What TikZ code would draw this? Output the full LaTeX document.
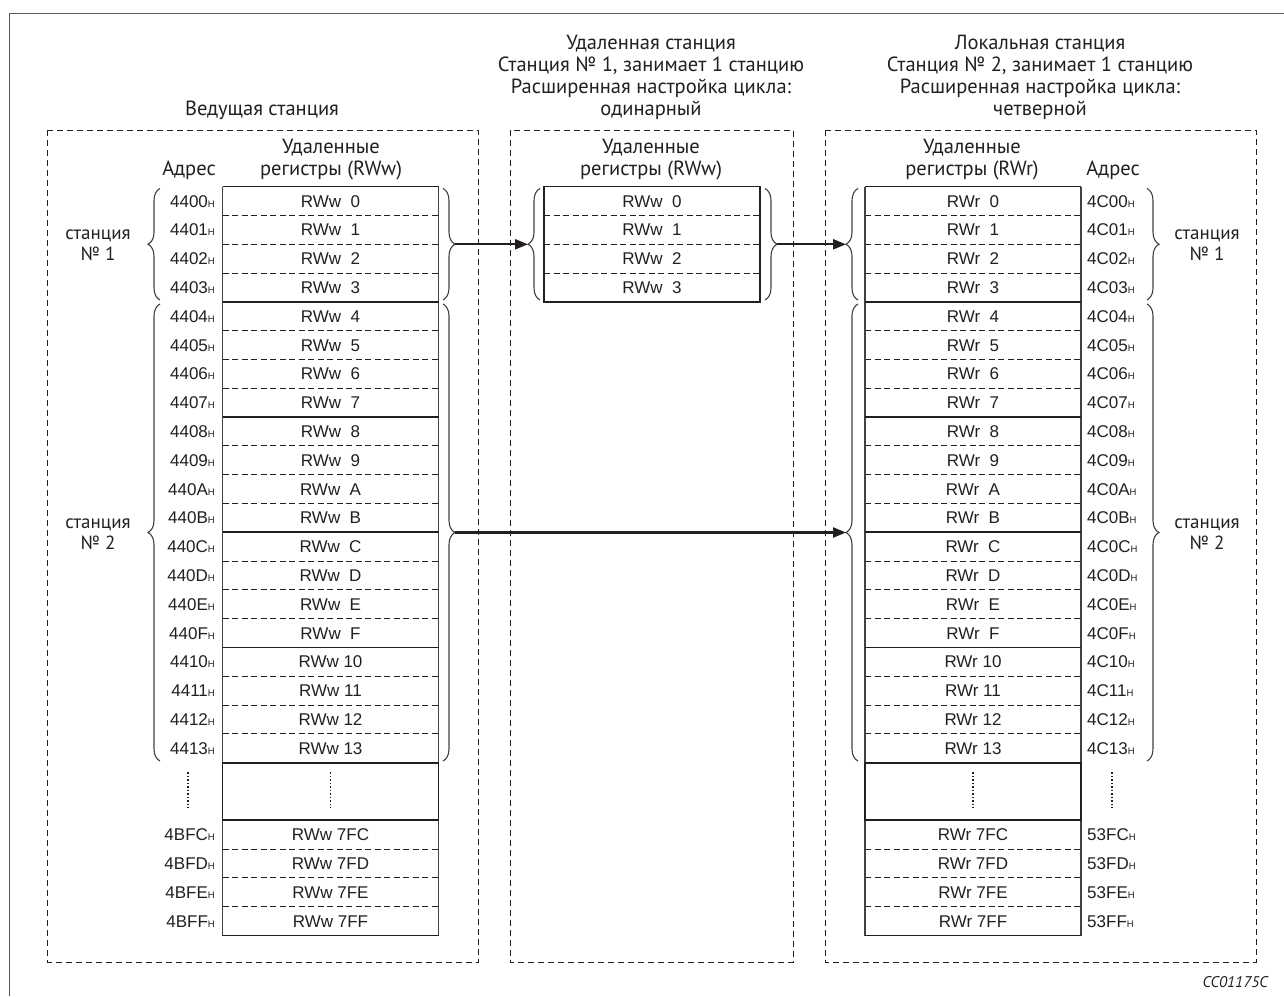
\documentclass[tikz,border=0pt]{standalone}
\usepackage{fontspec}
\setmainfont{Liberation Sans}
\newfontfamily\myr{PT Sans}
\usetikzlibrary{decorations.pathreplacing,arrows.meta}
\definecolor{ink}{HTML}{231F20}
\definecolor{brgray}{HTML}{404040}
\newcommand{\Hs}{{\fontsize{9.5}{10}\selectfont H}}
\begin{document}
\begin{tikzpicture}[x=1pt,y=-1pt,
  cell/.style={inner sep=0pt, text height=12pt, text depth=0pt, font=\fontsize{17}{19}\selectfont, text=ink},
  ttl/.style={inner sep=0pt, anchor=base, font=\myr\fontsize{20.5}{22}\selectfont, text=ink},
  stn/.style={inner sep=0pt, anchor=base, font=\myr\fontsize{19}{20}\selectfont, text=ink},
  dbox/.style={draw=ink, line width=1pt, dash pattern=on 6pt off 4pt},
  sepline/.style={draw=ink, line width=0.9pt, dash pattern=on 6pt off 3.5pt},
  gline/.style={draw=ink, line width=1.7pt},
  tline/.style={draw=ink, line width=1.3pt},
  vline/.style={draw=ink!85, line width=1.2pt},
  brc/.style={draw=brgray, line width=1.1pt, decorate, decoration={brace, amplitude=12pt}},
  arr/.style={draw=ink, line width=2.2pt, -{Triangle[length=13pt,width=10pt]}},
  dots/.style={draw=ink, line width=1.2pt, dash pattern=on 1.5pt off 2pt}
]
\useasboundingbox (0,0) rectangle (1284,996);
\draw[gray!70!black, line width=1.5pt] (9.5,996) -- (9.5,13.5) -- (1284,13.5);

% dashed station boxes
\draw[dbox] (47.5,130) rectangle (478,962);
\draw[dbox] (510,130) rectangle (793,962);
\draw[dbox] (825,130) rectangle (1256,962);

% titles
\node[ttl] (tL) at (262,115) {Ведущая станция};
\node[ttl] (tM1) at (651,49) {Удаленная станция};
\node[ttl] (tM2) at (651,71) {Станция № 1, занимает 1 станцию};
\node[ttl] (tM3) at (651,93) {Расширенная настройка цикла:};
\node[ttl] (tM4) at (651,115) {одинарный};
\node[ttl] (tR1) at (1040,49) {Локальная станция};
\node[ttl] (tR2) at (1040,71) {Станция № 2, занимает 1 станцию};
\node[ttl] (tR3) at (1040,93) {Расширенная настройка цикла:};
\node[ttl] (tR4) at (1040,115) {четверной};

% headers
\node[ttl] (hLa) at (189,175) {Адрес};
\node[ttl] (hL1) at (331,153) {Удаленные};
\node[ttl] (hL2) at (331,175) {регистры (RWw)};
\node[ttl] (hM1) at (651,153) {Удаленные};
\node[ttl] (hM2) at (651,175) {регистры (RWw)};
\node[ttl] (hR1) at (972,153) {Удаленные};
\node[ttl] (hR2) at (972,175) {регистры (RWr)};
\node[ttl] (hRa) at (1113,175) {Адрес};

% table lines (left and right tables)
\foreach \xa in {222.5,865}{
  \foreach \k in {1,2,3,5,6,7,9,10,11,13,14,15,17,18,19,23,24,25}
    \draw[sepline] (\xa,{186.7+\k*28.8}) -- ({\xa+216},{186.7+\k*28.8});
  \draw[vline] (\xa,186.7) -- (\xa,{186.7+26*28.8});
  \draw[vline] ({\xa+216},186.7) -- ({\xa+216},{186.7+26*28.8});
  \foreach \k in {4,8,12,16}
    \draw[gline] (\xa,{186.7+\k*28.8}) -- ({\xa+216},{186.7+\k*28.8});
  \draw[tline] (\xa,186.7) -- ({\xa+216},186.7);
  \draw[tline] (\xa,{186.7+26*28.8}) -- ({\xa+216},{186.7+26*28.8});
  \draw[gline] (\xa,{186.7+20*28.8}) rectangle ({\xa+216},{186.7+22*28.8});
}
% middle table lines
\foreach \k in {1,2,3}
  \draw[sepline] (544,{186.7+\k*28.8}) -- (760,{186.7+\k*28.8});
\draw[tline] (544,186.7) rectangle (760,{186.7+4*28.8});

% rows
\foreach \i/\n/\a in {0/0/00,1/1/01,2/2/02,3/3/03,4/4/04,5/5/05,6/6/06,7/7/07,8/8/08,9/9/09,10/A/0A,11/B/0B,12/C/0C,13/D/0D,14/E/0E,15/F/0F,16/10/10,17/11/11,18/12/12,19/13/13}{
  \ifnum\i<16 \def\gap{\hspace{0.55em}}\else\def\gap{ }\fi
  \node[cell] (L\i) at (330.5,{186.7+(\i+0.5)*28.8}) {RWw\gap\n};
  \node[cell, anchor=east] (LA\i) at (215,{186.7+(\i+0.5)*28.8}) {44\a\Hs};
  \node[cell] (R\i) at (973,{186.7+(\i+0.5)*28.8}) {RWr\gap\n};
  \node[cell, anchor=west] (RA\i) at (1087,{186.7+(\i+0.5)*28.8}) {4C\a\Hs};
}
\foreach \i in {0,1,2,3}
  \node[cell] (M\i) at (652,{186.7+(\i+0.5)*28.8}) {RWw\hspace{0.55em}\i};
\foreach \k/\n in {22/FC,23/FD,24/FE,25/FF}{
  \node[cell] (L\k) at (330.5,{186.7+(\k+0.5)*28.8}) {RWw 7\n};
  \node[cell, anchor=east] (LA\k) at (215,{186.7+(\k+0.5)*28.8}) {4B\n\Hs};
  \node[cell] (R\k) at (973,{186.7+(\k+0.5)*28.8}) {RWr 7\n};
  \node[cell, anchor=west] (RA\k) at (1087,{186.7+(\k+0.5)*28.8}) {53\n\Hs};
}

% dots in the gap
\foreach \x in {188,330.5,973,1112}
  \draw[dots] (\x,772) -- (\x,808);

% braces
\draw[brc] (160,300) -- (160,188.5);
\draw[brc] (160,761) -- (160,304);
\draw[brc] (443,188.5) -- (443,300);
\draw[brc] (443,304) -- (443,761);
\draw[brc] (540,300) -- (540,188.5);
\draw[brc] (765,188.5) -- (765,300);
\draw[brc] (858,300) -- (858,188.5);
\draw[brc] (858,761) -- (858,304);
\draw[brc] (1147,188.5) -- (1147,300);
\draw[brc] (1147,304) -- (1147,761);

% brace tips
\coordinate (bL1) at (455,244.3);
\coordinate (bL2) at (455,532.5);
\coordinate (bMi) at (528,244.3);
\coordinate (bMo) at (777,244.3);
\coordinate (bR1) at (846,244.3);
\coordinate (bR2) at (846,532.5);

% arrows
\draw[arr] (bL1) -- (bMi);
\draw[arr] (bMo) -- (bR1);
\draw[arr] (bL2) -- (bR2);

% station labels
\node[stn] (sL1a) at (98,239) {станция};
\node[stn] (sL1b) at (98,260) {№ 1};
\node[stn] (sL2a) at (98,528) {станция};
\node[stn] (sL2b) at (98,549) {№ 2};
\node[stn] (sR1a) at (1207,239) {станция};
\node[stn] (sR1b) at (1207,260) {№ 1};
\node[stn] (sR2a) at (1207,528) {станция};
\node[stn] (sR2b) at (1207,549) {№ 2};

% figure code
\node[inner sep=0pt, anchor=base east, font=\myr\itshape\fontsize{15.5}{16}\selectfont, text=ink] (code) at (1268,987) {CC01175C};
\end{tikzpicture}
\end{document}
